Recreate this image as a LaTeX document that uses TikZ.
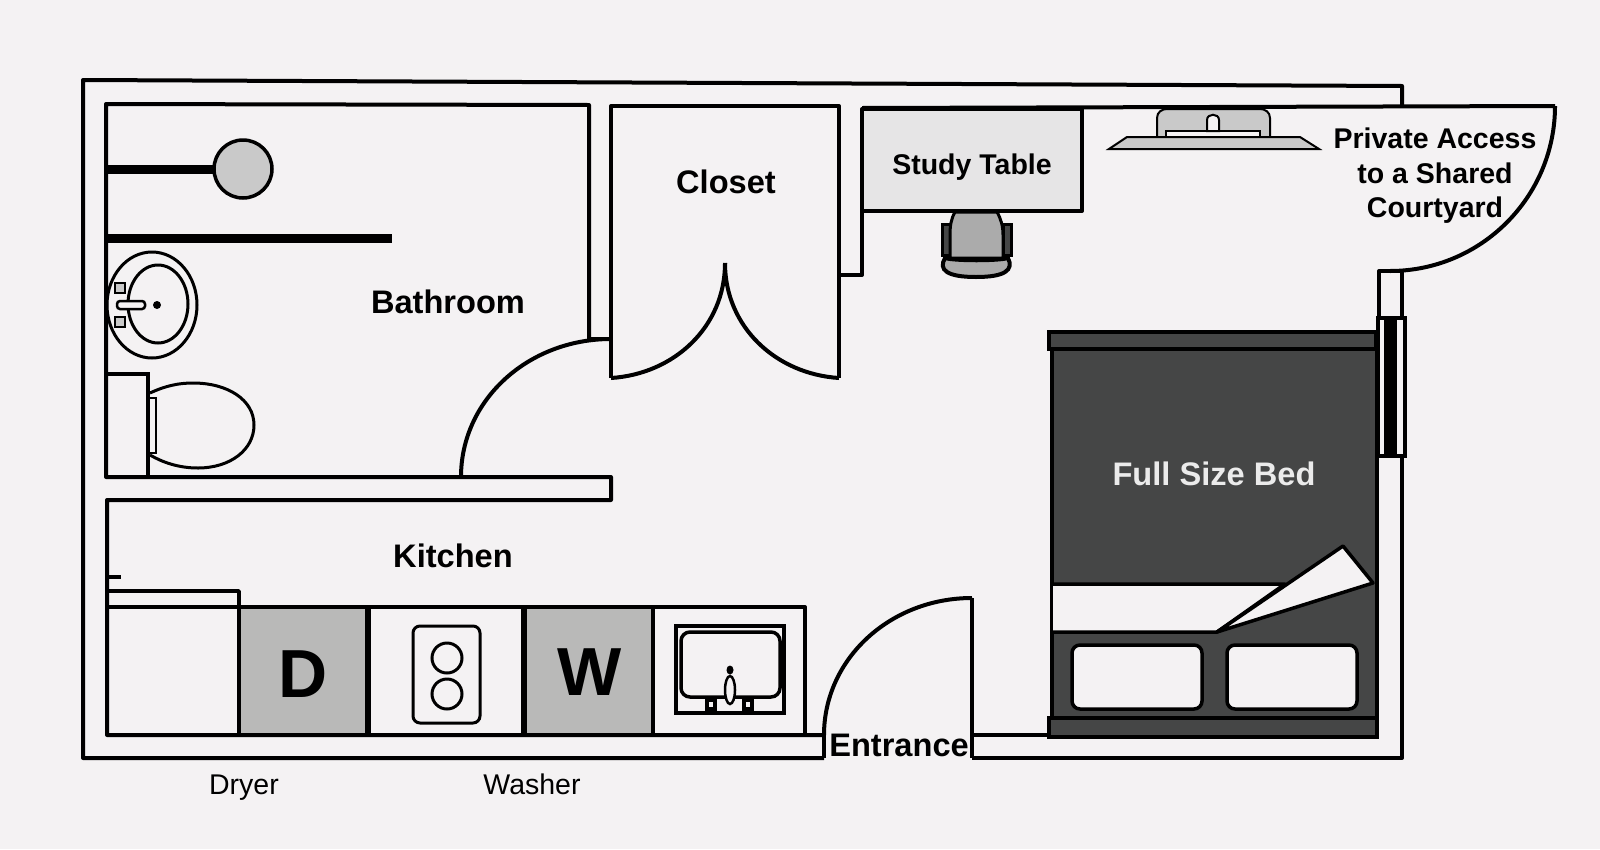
\documentclass[tikz,border=0pt]{standalone}
\usepackage{fontspec}
\setsansfont{Liberation Sans}
\definecolor{paper}{HTML}{F4F2F3}
\definecolor{mattress}{HTML}{454646}
\definecolor{appliance}{HTML}{B9B9B8}
\definecolor{desk}{HTML}{E6E5E6}
\definecolor{fixture}{HTML}{C9C9C9}
\definecolor{seat}{HTML}{ABABAB}
\begin{document}
\begin{tikzpicture}[
    x=1pt, y=-1pt,
    lbl/.style={font=\sffamily\bfseries\fontsize{32.6}{34}\selectfont, inner sep=0pt},
    smalllbl/.style={font=\sffamily\bfseries\fontsize{28.5}{34.5}\selectfont, inner sep=0pt, align=center},
    plainlbl/.style={font=\sffamily\fontsize{28.5}{30}\selectfont, inner sep=0pt, anchor=base},
    biglbl/.style={font=\sffamily\bfseries\fontsize{68}{70}\selectfont, inner sep=0pt},
    wall/.style={draw=black, line width=4pt, line join=round},
    thin wall/.style={draw=black, line width=3.5pt, line join=round},
    thick rod/.style={draw=black, line width=9pt}
]
\useasboundingbox (0,0) rectangle (1600,849);
\fill[paper] (0,0) rectangle (1600,849);

\draw[wall] (824,758) -- (83,758) -- (83,80) -- (1402,86) -- (1402,106);
\draw[wall] (972,758) -- (1402,758) -- (1402,456);
\draw[wall] (824,758) -- (824,735);
\draw[wall] (972,735) -- (972,598);
\draw[wall] (972,758) -- (972,735);
\draw[wall] (824,735) .. controls (824,659) and (890,598) .. (972,598);
\draw[wall] (972,735) -- (1051,735);

\draw[wall] (589,339) -- (589,105) -- (106,104) -- (106,477) -- (611,477) -- (611,500) -- (107,500) -- (107,735) -- (824,735);
\draw[wall] (611,339) -- (589,339);
\draw[wall] (611,339) .. controls (528,339) and (461,400) .. (461,477);

\draw[wall] (611,378) -- (611,106) -- (839,106) -- (839,378);
\draw[wall] (611,378) .. controls (674,374) and (725,327) .. (725,263);
\draw[wall] (839,378) .. controls (776,374) and (725,327) .. (725,263);

\draw[wall,fill=desk] (862,109) rectangle (1082,211);
\draw[wall] (862,211) -- (862,275) -- (839,275);
\draw[wall] (862,108) -- (1555,106);

\draw[wall] (1555,106) .. controls (1555,197) and (1481,271) .. (1390,271);
\draw[wall] (1402,318) -- (1402,271) -- (1379,271) -- (1379,318);

\draw[fill=mattress,line width=3pt] (942,224) rectangle (950,255);
\draw[fill=mattress,line width=3pt] (1003,224) rectangle (1011,255);
\draw[fill=seat,line width=3pt] (955,212) -- (997,212) .. controls (1001,219) and (1003,226) .. (1003,235) -- (1003,258) -- (950,258) -- (950,235) .. controls (950,226) and (951,219) .. (955,212) -- cycle;
\draw[fill=seat,line width=4pt] (945,258) .. controls (955,261) and (998,261) .. (1008,258) .. controls (1014,270) and (1005,277) .. (976,277) .. controls (947,277) and (938,270) .. (945,258) -- cycle;

\draw[fill=fixture,line width=2pt] (1157,137) -- (1157,118) .. controls (1157,112) and (1162,109) .. (1167,109) -- (1260,109) .. controls (1265,109) and (1270,112) .. (1270,118) -- (1270,137) -- cycle;
\draw[fill=paper,line width=2pt] (1166,131) rectangle (1260,137);
\draw[fill=fixture,line width=2pt] (1109,149) -- (1127,137) -- (1300,137) -- (1319,149) -- cycle;
\draw[fill=paper,line width=2pt] (1207,131) -- (1207,120) .. controls (1207,113) and (1219,113) .. (1219,120) -- (1219,131) -- cycle;

\draw[thick rod] (106,169) -- (215,169);
\draw[fill=fixture,line width=3.5pt] (243,169) circle [radius=29];
\draw[thick rod] (106,238) -- (392,238);

\begin{scope}
\clip (107,240) rectangle (210,370);
\draw[line width=3pt] (152,305) ellipse [x radius=45, y radius=53];
\end{scope}
\draw[line width=3pt] (158,304) ellipse [x radius=30, y radius=39];
\draw[line width=2.5pt,fill=paper,rounded corners=3pt] (117,301) rectangle (145,309);
\fill (157,305) circle [radius=4];
\draw[line width=2.5pt,fill=fixture] (115,283) rectangle (125,293);
\draw[line width=2.5pt,fill=fixture] (115,317) rectangle (125,327);

\draw[line width=3.5pt] (108,374) -- (148,374) -- (148,477);
\draw[line width=3pt] (150,393) .. controls (165,386) and (178,383) .. (193,383) .. controls (228,383) and (254,400) .. (254,425) .. controls (254,450) and (230,468) .. (198,468) .. controls (178,468) and (162,462) .. (150,455);
\draw[line width=2pt] (149,398) rectangle (156,453);

\draw[thin wall] (107,577) -- (121,577);
\draw[thin wall] (107,591) -- (239,591) -- (239,607);
\draw[wall] (107,607) -- (805,607) -- (805,735);
\draw[thin wall] (239,607) -- (239,735);
\fill[appliance] (241,609) rectangle (365,733);
\fill[appliance] (527,609) rectangle (651,733);
\draw[line width=6pt] (368,607) -- (368,735);
\draw[line width=6pt] (524,607) -- (524,735);
\draw[line width=4pt] (653,607) -- (653,735);

\draw[line width=3pt,rounded corners=7pt] (413,626) rectangle (480,723);
\draw[line width=3pt] (447,658) circle [radius=15];
\draw[line width=3pt] (447,694) circle [radius=15];

\draw[line width=3.5pt] (676,626) rectangle (784,713);
\draw[line width=3.5pt,rounded corners=9pt] (681,632) rectangle (780,697);
\fill[black] (705,697) rectangle (717,713);
\fill[black] (742,697) rectangle (754,713);
\fill[paper] (709,702) rectangle (713,707);
\fill[paper] (746,702) rectangle (750,707);
\draw[line width=2.5pt,fill=paper] (730,690) ellipse [x radius=5, y radius=14];
\fill (730,670) ellipse [x radius=3.5, y radius=4.5];

\draw[fill=mattress,line width=3.5pt] (1052,348) rectangle (1377,718);
\draw[fill=mattress,line width=3.5pt] (1049,332) rectangle (1376,349);
\draw[fill=mattress,line width=3.5pt] (1049,718) rectangle (1377,737);
\draw[fill=paper,line width=3.5pt,line join=round] (1053,584) -- (1285,584) -- (1217,632) -- (1053,632);
\draw[fill=paper,line width=3.5pt,line join=round] (1217,632) -- (1343,546) -- (1373,583) -- cycle;
\draw[fill=paper,line width=3.5pt,rounded corners=8pt] (1072,645) rectangle (1202,709);
\draw[fill=paper,line width=3.5pt,rounded corners=8pt] (1227,645) rectangle (1357,709);

\draw[fill=paper,line width=3.5pt] (1378,318) rectangle (1405,456);
\fill[black] (1384,318) rectangle (1397,456);

\node[lbl] (bathroom) at (448,302) {Bathroom};
\node[lbl] (closet) at (726,182) {Closet};
\node[lbl] (kitchen) at (453,556) {Kitchen};
\node[lbl] (entrance) at (899,745) {Entrance};
\node[lbl,text=white!92!black] (bed) at (1214,474) {Full Size Bed};
\node[smalllbl] (table) at (972,167) {Study Table};
\node[smalllbl] (courtyard) at (1435,176) {Private Access\\to a Shared\\Courtyard};
\node[biglbl] (dmark) at (303,674) {D};
\node[biglbl] (wmark) at (590,672) {W};
\node[plainlbl] (dryer) at (244,794) {Dryer};
\node[plainlbl] (washer) at (532,794) {Washer};

\end{tikzpicture}
\end{document}
